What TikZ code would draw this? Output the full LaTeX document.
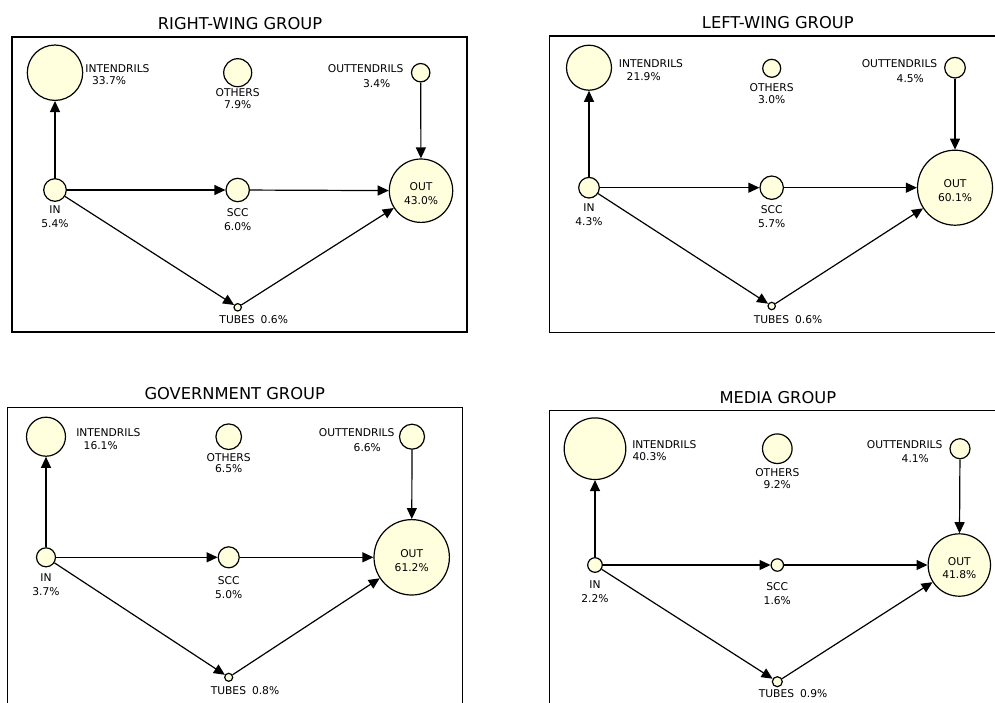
\documentclass[tikz,border=0pt]{standalone}
\usepackage{fontspec}
\setmainfont{DejaVu Sans}
\usetikzlibrary{arrows.meta}
\definecolor{nodefill}{RGB}{255,255,222}
\tikzset{
  bub/.style={circle, draw=black, fill=nodefill, line width=1.2pt, inner sep=0pt, minimum size=#1},
  lbl/.style={font=\fontsize{10.7}{12}\selectfont, inner sep=0pt, anchor=base, yshift=-3.9pt},
  ttl/.style={font=\fontsize{16.3}{18}\selectfont, inner sep=0pt, anchor=base, yshift=-5.9pt},
  frame/.style={draw=black, line width=1.3pt},
  edge/.style={draw=black, line width=1.2pt, -{Triangle[length=11pt,width=10pt]}},
}
\begin{document}
\begin{tikzpicture}[x=1pt,y=-1pt]
\useasboundingbox (0,0) rectangle (995,702);
\clip (0,0) rectangle (995,702);

% ---------- Panel 1: RIGHT-WING ----------
\node[ttl] (t1) at (240,23.3) {RIGHT-WING GROUP};
\draw[frame] (12,37) rectangle (467,332);
\node[bub=55.4] (a-int) at (55,72.7) {};
\node[bub=28] (a-oth) at (237.7,72.7) {};
\node[bub=18.4] (a-outt) at (420.7,72.7) {};
\node[bub=22.6] (a-in) at (55,190) {};
\node[bub=23.4] (a-scc) at (237.7,190) {};
\node[bub=63.4] (a-out) at (421,190.7) {};
\node[bub=7.4] (a-tub) at (237.7,307.3) {};
\node[lbl] (a-l1) at (117.5,69) {INTENDRILS};
\node[lbl] (a-l2) at (109,81) {33.7\%};
\node[lbl] (a-l3) at (237.7,92.3) {OTHERS};
\node[lbl] (a-l4) at (237.7,104.7) {7.9\%};
\node[lbl] (a-l5) at (365.7,69) {OUTTENDRILS};
\node[lbl] (a-l6) at (376.7,83.3) {3.4\%};
\node[lbl] (a-l7) at (55,210) {IN};
\node[lbl] (a-l8) at (55,224) {5.4\%};
\node[lbl] (a-l9) at (237.7,212.7) {SCC};
\node[lbl] (a-l10) at (237.7,226.7) {6.0\%};
\node[lbl] (a-l11) at (421,186.7) {OUT};
\node[lbl] (a-l12) at (421,200.7) {43.0\%};
\node[lbl] (a-l13) at (253.7,320) {TUBES\hspace{6pt}0.6\%};

% ---------- Panel 2: LEFT-WING ----------
\node[ttl] (t2) at (777.8,22.7) {LEFT-WING GROUP};
\draw[frame] (549.3,36) rectangle (1000,332.3);
\node[bub=45] (b-int) at (589,67.7) {};
\node[bub=18] (b-oth) at (771.7,68.3) {};
\node[bub=20.6] (b-outt) at (955,67.7) {};
\node[bub=20.6] (b-in) at (589,187.7) {};
\node[bub=23.4] (b-scc) at (771.7,187.7) {};
\node[bub=75] (b-out) at (955,187.7) {};
\node[bub=7.4] (b-tub) at (771.7,306) {};
\node[lbl] (b-l1) at (651,63.7) {INTENDRILS};
\node[lbl] (b-l2) at (643.7,76.3) {21.9\%};
\node[lbl] (b-l3) at (771.7,88) {OTHERS};
\node[lbl] (b-l4) at (771.7,100) {3.0\%};
\node[lbl] (b-l5) at (899.5,63.7) {OUTTENDRILS};
\node[lbl] (b-l6) at (910.3,78.7) {4.5\%};
\node[lbl] (b-l7) at (589,207.3) {IN};
\node[lbl] (b-l8) at (589,221.3) {4.3\%};
\node[lbl] (b-l9) at (771.7,210) {SCC};
\node[lbl] (b-l10) at (771.7,224) {5.7\%};
\node[lbl] (b-l11) at (955,183.3) {OUT};
\node[lbl] (b-l12) at (955,197.7) {60.1\%};
\node[lbl] (b-l13) at (788,319.3) {TUBES\hspace{6pt}0.6\%};

% ---------- Panel 3: GOVERNMENT ----------
\node[ttl] (t3) at (234.7,394) {GOVERNMENT GROUP};
\draw[frame] (7.3,407.7) rectangle (462.7,712);
\node[bub=39] (c-int) at (46,436.7) {};
\node[bub=25.6] (c-oth) at (228.7,436.7) {};
\node[bub=25] (c-outt) at (412,436.7) {};
\node[bub=19] (c-in) at (46,557.3) {};
\node[bub=21] (c-scc) at (228.7,557.3) {};
\node[bub=75.4] (c-out) at (411.7,557.3) {};
\node[bub=8] (c-tub) at (228.7,677.3) {};
\node[lbl] (c-l1) at (108.3,433) {INTENDRILS};
\node[lbl] (c-l2) at (100.7,445.3) {16.1\%};
\node[lbl] (c-l3) at (228.7,457.3) {OTHERS};
\node[lbl] (c-l4) at (228.7,469) {6.5\%};
\node[lbl] (c-l5) at (356.7,433) {OUTTENDRILS};
\node[lbl] (c-l6) at (367.3,447.7) {6.6\%};
\node[lbl] (c-l7) at (46,577.3) {IN};
\node[lbl] (c-l8) at (46,592) {3.7\%};
\node[lbl] (c-l9) at (228.7,580.3) {SCC};
\node[lbl] (c-l10) at (228.7,594.3) {5.0\%};
\node[lbl] (c-l11) at (411.7,553.3) {OUT};
\node[lbl] (c-l12) at (411.7,568) {61.2\%};
\node[lbl] (c-l13) at (245,690.7) {TUBES\hspace{6pt}0.8\%};

% ---------- Panel 4: MEDIA ----------
\node[ttl] (t4) at (777.8,397.3) {MEDIA GROUP};
\draw[frame] (549.3,410.7) rectangle (1000,712);
\node[bub=61.6] (d-int) at (595,448.7) {};
\node[bub=29.6] (d-oth) at (777.3,448.7) {};
\node[bub=20] (d-outt) at (960,448.7) {};
\node[bub=14.6] (d-in) at (595,565) {};
\node[bub=12.4] (d-scc) at (777.3,565) {};
\node[bub=62.4] (d-out) at (959.3,565) {};
\node[bub=10] (d-tub) at (777.3,681.7) {};
\node[lbl] (d-l1) at (664.3,444.7) {INTENDRILS};
\node[lbl] (d-l2) at (649.5,456.7) {40.3\%};
\node[lbl] (d-l3) at (777.3,473) {OTHERS};
\node[lbl] (d-l4) at (777.3,485) {9.2\%};
\node[lbl] (d-l5) at (904.7,444.7) {OUTTENDRILS};
\node[lbl] (d-l6) at (915.3,459) {4.1\%};
\node[lbl] (d-l7) at (595,585) {IN};
\node[lbl] (d-l8) at (595,599) {2.2\%};
\node[lbl] (d-l9) at (777.3,587) {SCC};
\node[lbl] (d-l10) at (777.3,600.7) {1.6\%};
\node[lbl] (d-l11) at (959.3,561.3) {OUT};
\node[lbl] (d-l12) at (959.3,575) {41.8\%};
\node[lbl] (d-l13) at (793,694) {TUBES\hspace{6pt}0.9\%};

% ---------- Connectors ----------
\foreach \p in {a,b,c,d} {
  \draw[edge] (\p-in) -- (\p-int);
  \draw[edge] (\p-in) -- (\p-scc);
  \draw[edge] (\p-scc) -- (\p-out);
  \draw[edge] (\p-in) -- (\p-tub);
  \draw[edge] (\p-tub) -- (\p-out);
  \draw[edge] (\p-outt) -- (\p-out);
}
\end{tikzpicture}
\end{document}
